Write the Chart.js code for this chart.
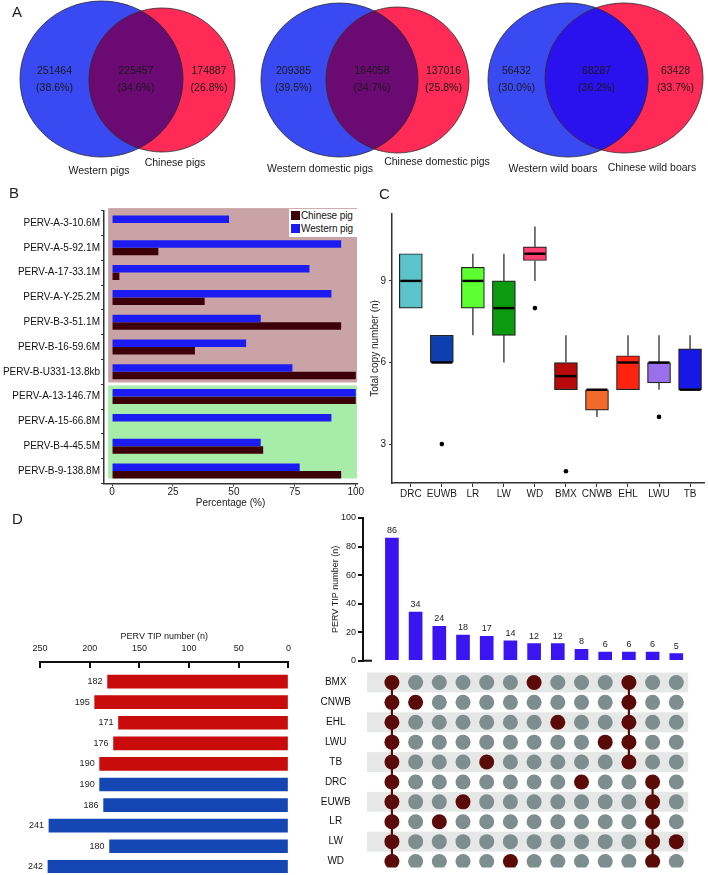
<!DOCTYPE html>
<html lang="en">
<head>
<meta charset="UTF-8">
<title>PERV insertion figure</title>
<script src="https://cdn.jsdelivr.net/npm/chart.js"></script>
<style>
  body { margin: 0; background: #fff; font-family: 'Liberation Sans', Arial, sans-serif; }
  #page { position: relative; width: 708px; height: 875px; overflow: hidden; }
  #page canvas { position: absolute; }
  .tag { position: absolute; font-size: 15px; color: #222; line-height: 18px; }
  #legendB { position: absolute; left: 289px; top: 209px; width: 68px; height: 28px; background: #fff; font-size: 10px; color: #111; }
  #legendB div { height: 13px; line-height: 13px; white-space: nowrap; letter-spacing: -0.1px; }
  #legendB span { display: inline-block; width: 9px; height: 9px; margin: 0 1px 0 2px; vertical-align: -1px; }
</style>
</head>
<body>
<div id="page">
  <canvas id="venn" width="708" height="180" style="left:0;top:0"></canvas>
  <canvas id="chartB" width="370" height="314" style="left:0;top:196px"></canvas>
  <canvas id="chartC" width="346" height="314" style="left:362px;top:196px"></canvas>
  <canvas id="chartDleft" width="305" height="255" style="left:0;top:620px"></canvas>
  <canvas id="chartDbars" width="408" height="170" style="left:300px;top:500px"></canvas>
  <canvas id="chartDmatrix" width="408" height="210" style="left:300px;top:665px"></canvas>
  <div id="legendB">
    <div><span style="background:#3d0009"></span>Chinese pig</div>
    <div><span style="background:#1c1cf2"></span>Western pig</div>
  </div>
  <div class="tag" style="left:12px;top:3px">A</div>
  <div class="tag" style="left:9px;top:184px">B</div>
  <div class="tag" style="left:379px;top:185px">C</div>
  <div class="tag" style="left:12px;top:510px">D</div>
</div>

<script>
// ---- A: shared / private sites ----
const vennTitles = [
  ['Western pigs', 'Chinese pigs'],
  ['Western domestic pigs', 'Chinese domestic pigs'],
  ['Western wild boars', 'Chinese wild boars']
];
const vennCounts = [[251464, 225457, 174887], [209385, 184058, 137016], [56432, 68287, 63428]];
const vennPercents = [['38.6%', '34.6%', '26.8%'], ['39.5%', '34.7%', '25.8%'], ['30.0%', '36.2%', '33.7%']];

// ---- B: PERV loci frequency ----
const pervLoci = ['PERV-A-3-10.6M', 'PERV-A-5-92.1M', 'PERV-A-17-33.1M', 'PERV-A-Y-25.2M', 'PERV-B-3-51.1M',
  'PERV-B-16-59.6M', 'PERV-B-U331-13.8kb', 'PERV-A-13-146.7M', 'PERV-A-15-66.8M', 'PERV-B-4-45.5M', 'PERV-B-9-138.8M'];
const westernPct = [48, 94, 81, 90, 61, 55, 74, 100, 90, 61, 77];
const chinesePct = [0, 19, 3, 38, 94, 34, 100, 100, 0, 62, 94];
const pctTicks = [0, 25, 50, 75, 100];

// ---- C: total copy number per breed ----
const breeds = ['DRC', 'EUWB', 'LR', 'LW', 'WD', 'BMX', 'CNWB', 'EHL', 'LWU', 'TB'];
const boxQ1 = [8, 6, 8, 7, 9.75, 5, 4.25, 5, 5.25, 5];
const boxQ3 = [10, 7, 9.5, 9, 10.25, 6, 5, 6.25, 6, 6.5];
const boxMedian = [9, 6, 9, 8, 10, 5.5, 5, 6, 6, 5];
const whiskerLow = [8, 6, 7, 6, 9, 5, 4, 5, 5, 5];
const whiskerHigh = [10, 7, 10, 10, 11, 7, 5, 7, 7, 7];
const outlierBreed = ['EUWB', 'WD', 'BMX', 'LWU'];
const outlierValue = [3, 8, 2, 4];
const copyTicks = [3, 6, 9];

// ---- D: PERV TIPs ----
const breedsD = ['BMX', 'CNWB', 'EHL', 'LWU', 'TB', 'DRC', 'EUWB', 'LR', 'LW', 'WD'];
const breedOrigin = ['Chinese', 'Chinese', 'Chinese', 'Chinese', 'Chinese', 'Western', 'Western', 'Western', 'Western', 'Western'];
const tipTotals = [182, 195, 171, 176, 190, 190, 186, 241, 180, 242];
const intersectionSizes = [86, 34, 24, 18, 17, 14, 12, 12, 8, 6, 6, 6, 5];
const intersectionSets = [
  ['BMX', 'CNWB', 'EHL', 'LWU', 'TB', 'DRC', 'EUWB', 'LR', 'LW', 'WD'],
  ['CNWB'], ['LR'], ['EUWB'], ['TB'], ['WD'], ['BMX'], ['EHL'], ['DRC'], ['LWU'],
  ['BMX', 'CNWB', 'EHL', 'LWU', 'TB'],
  ['DRC', 'EUWB', 'LR', 'LW', 'WD'],
  ['LW']
];

Chart.defaults.font.family = "'Liberation Sans', Arial, sans-serif";
Chart.defaults.font.size = 10;
Chart.defaults.color = '#1a1a1a';
Chart.defaults.animation = false;
Chart.defaults.responsive = false;
Chart.defaults.plugins.legend.display = false;
Chart.defaults.plugins.tooltip.enabled = false;

const FONT = "'Liberation Sans', Arial, sans-serif";

// venn geometry in the 708x180 frame (layout only)
const vennLayout = [
  { west: { cx: 101.5, cy: 79, rx: 81.5, ry: 78 }, china: { cx: 162, cy: 80, rx: 73, ry: 72 },
    overlap: '#6c0a74', westLabel: [99, 171], chinaLabel: [175, 163] },
  { west: { cx: 339.5, cy: 80, rx: 78.5, ry: 77 }, china: { cx: 397.5, cy: 80, rx: 71.5, ry: 73 },
    overlap: '#6c0a74', westLabel: [320, 169], chinaLabel: [437, 162] },
  { west: { cx: 568, cy: 80, rx: 80, ry: 77 }, china: { cx: 624, cy: 78, rx: 79, ry: 75 },
    overlap: '#2a12ee', westLabel: [553, 169], chinaLabel: [652, 168] }
];

const vennPlugin = {
  id: 'venn',
  afterDraw(chart) {
    const { ctx, scales: { x, y } } = chart;
    const px = v => x.getPixelForValue(v), py = v => y.getPixelForValue(v);
    const path = e => {
      ctx.beginPath();
      ctx.ellipse(px(e.cx), py(e.cy), Math.abs(px(e.cx + e.rx) - px(e.cx)), Math.abs(py(e.cy + e.ry) - py(e.cy)), 0, 0, Math.PI * 2);
    };
    vennLayout.forEach((v, k) => {
      const A = v.west, B = v.china;
      ctx.save();
      ctx.fillStyle = '#3a4af2'; path(A); ctx.fill();
      ctx.fillStyle = '#ff2a55'; path(B); ctx.fill();
      ctx.save(); path(A); ctx.clip(); ctx.fillStyle = v.overlap; path(B); ctx.fill(); ctx.restore();
      ctx.strokeStyle = '#2a2a2a'; ctx.lineWidth = 0.8;
      path(A); ctx.stroke(); path(B); ctx.stroke();

      const edges = [A.cx - A.rx, B.cx - B.rx, A.cx + A.rx, B.cx + B.rx];
      const mids = [(edges[0] + edges[1]) / 2, (edges[1] + edges[2]) / 2, (edges[2] + edges[3]) / 2];
      ctx.fillStyle = '#1a1a1a';
      ctx.font = '10.5px ' + FONT;
      ctx.textAlign = 'center';
      ctx.textBaseline = 'middle';
      mids.forEach((m, j) => {
        ctx.fillText(String(vennCounts[k][j]), px(m), py(71));
        ctx.fillText('(' + vennPercents[k][j] + ')', px(m), py(88));
      });
      ctx.fillText(vennTitles[k][0], px(v.westLabel[0]), py(v.westLabel[1]));
      ctx.fillText(vennTitles[k][1], px(v.chinaLabel[0]), py(v.chinaLabel[1]));
      ctx.restore();
    });
  }
};

new Chart(document.getElementById('venn'), {
  type: 'scatter',
  data: { datasets: [] },
  options: {
    layout: { padding: 0 },
    scales: {
      x: { type: 'linear', min: 0, max: 708, display: false },
      y: { type: 'linear', min: 0, max: 180, reverse: true, display: false }
    }
  },
  plugins: [vennPlugin]
});

// ---- B ----
const shadePlugin = {
  id: 'shade',
  beforeDatasetsDraw(chart) {
    const { ctx, scales: { x, y } } = chart;
    const groups = [[-0.6, 6.43, '#c9a3a5'], [6.55, 10.3, '#a8eca9']];
    ctx.save();
    groups.forEach(g => {
      const top = y.getPixelForValue(g[0]), bot = y.getPixelForValue(g[1]);
      const left = x.getPixelForValue(-1.6), right = x.getPixelForValue(100.5);
      ctx.fillStyle = g[2];
      ctx.fillRect(left, top, right - left, bot - top);
    });
    ctx.restore();
  }
};

new Chart(document.getElementById('chartB'), {
  type: 'bar',
  data: {
    labels: pervLoci,
    datasets: [
      { label: 'Western pig', data: westernPct, backgroundColor: '#1c1cf2', barThickness: 7.5, inflateAmount: 0 },
      { label: 'Chinese pig', data: chinesePct, backgroundColor: '#3d0009', barThickness: 7.5, inflateAmount: 0 }
    ]
  },
  options: {
    indexAxis: 'y',
    layout: { padding: { top: 14.6, right: 13, left: 0, bottom: 0 } },
    scales: {
      x: {
        type: 'linear', min: -3.3, max: 100.5,
        afterBuildTicks: s => { s.ticks = pctTicks.map(v => ({ value: v })); },
        grid: { drawOnChartArea: false, tickLength: 3, color: '#333' },
        border: { color: '#333', width: 1.5 },
        ticks: { padding: 0 },
        title: { display: true, text: 'Percentage (%)', padding: { top: 0, bottom: 1 } },
        afterFit: s => { s.height = 26.6; }
      },
      y: {
        grid: { drawOnChartArea: false, tickLength: 3, color: '#333' },
        border: { color: '#333', width: 1.5 },
        ticks: { padding: 1, color: '#111' },
        afterFit: s => { s.width = 104; }
      }
    }
  },
  plugins: [shadePlugin]
});

// ---- C ----
const boxColors = ['#5bc4cb', '#0d3fb0', '#5cff30', '#0c9a10', '#ff3f70', '#b80a0a', '#f26a2a', '#ff2310', '#9a70ea', '#1717e8'];

const boxPlugin = {
  id: 'boxes',
  afterDatasetsDraw(chart) {
    const { ctx, scales: { y } } = chart;
    const meta = chart.getDatasetMeta(0);
    ctx.save();
    meta.data.forEach((bar, i) => {
      const cx = bar.x, half = bar.width / 2;
      ctx.strokeStyle = '#4a4a4a'; ctx.lineWidth = 1.5;
      ctx.beginPath();
      if (whiskerLow[i] < boxQ1[i]) { ctx.moveTo(cx, y.getPixelForValue(whiskerLow[i])); ctx.lineTo(cx, y.getPixelForValue(boxQ1[i])); }
      if (whiskerHigh[i] > boxQ3[i]) { ctx.moveTo(cx, y.getPixelForValue(boxQ3[i])); ctx.lineTo(cx, y.getPixelForValue(whiskerHigh[i])); }
      ctx.stroke();
      ctx.strokeStyle = '#000'; ctx.lineWidth = 2.4;
      ctx.beginPath();
      const my = y.getPixelForValue(boxMedian[i]);
      ctx.moveTo(cx - half + 1, my); ctx.lineTo(cx + half - 1, my);
      ctx.stroke();
    });
    ctx.restore();
  }
};

new Chart(document.getElementById('chartC'), {
  type: 'bar',
  data: {
    datasets: [
      { type: 'bar', data: breeds.map((b, i) => ({ x: i, y: [boxQ1[i], boxQ3[i]] })),
        backgroundColor: boxColors, borderColor: '#222', borderWidth: 1.2, borderSkipped: false, barThickness: 23 },
      { type: 'scatter', data: outlierBreed.map((b, i) => ({ x: breeds.indexOf(b), y: outlierValue[i] })),
        pointRadius: 2.3, backgroundColor: '#000', borderWidth: 0 }
    ]
  },
  options: {
    layout: { padding: { top: 18, right: 1, left: 0, bottom: 0 } },
    scales: {
      x: {
        type: 'linear', min: -0.607, max: 9.45, offset: false,
        afterBuildTicks: s => { s.ticks = breeds.map((b, i) => ({ value: i })); },
        ticks: { callback: v => breeds[v], autoSkip: false, maxRotation: 0, padding: 1 },
        grid: { drawOnChartArea: false, offset: false, tickLength: 4, color: '#333' },
        border: { color: '#333', width: 1.5 },
        afterFit: s => { s.height = 27; }
      },
      y: {
        min: 1.57, max: 11.46,
        afterBuildTicks: s => { s.ticks = copyTicks.map(v => ({ value: v })); },
        grid: { drawOnChartArea: false, tickLength: 3, color: '#333' },
        border: { color: '#333', width: 1.5 },
        ticks: { padding: 3 },
        title: { display: true, text: 'Total copy number (n)', padding: { top: 7, bottom: 0 } },
        afterFit: s => { s.width = 30; }
      }
    }
  },
  plugins: [boxPlugin]
});

// ---- D left: total TIPs per breed ----
const leftValuePlugin = {
  id: 'leftValues',
  afterDatasetsDraw(chart) {
    const { ctx } = chart;
    ctx.save();
    ctx.font = '9px ' + FONT;
    ctx.fillStyle = '#1a1a1a';
    ctx.textAlign = 'right';
    ctx.textBaseline = 'middle';
    chart.getDatasetMeta(0).data.forEach((bar, i) => {
      ctx.fillText(String(tipTotals[i]), bar.x - 5, bar.y);
    });
    ctx.restore();
  }
};

new Chart(document.getElementById('chartDleft'), {
  type: 'bar',
  data: {
    datasets: [{
      data: tipTotals.map((v, i) => ({ x: v, y: i })),
      backgroundColor: breedOrigin.map(o => o === 'Chinese' ? '#c80b0b' : '#1447b3'),
      barThickness: 13
    }]
  },
  options: {
    indexAxis: 'y',
    layout: { padding: { left: 40, right: 7, top: 0, bottom: 2 } },
    scales: {
      x: {
        type: 'linear', position: 'top', min: 0, max: 250, reverse: true,
        ticks: { stepSize: 50, font: { size: 9 }, padding: 14 },
        grid: { drawOnChartArea: false, tickLength: -6, color: '#111', lineWidth: 2 },
        border: { color: '#111', width: 2 },
        title: { display: true, text: 'PERV TIP number (n)', font: { size: 9 }, padding: { top: 11.6, bottom: 0 } },
        afterFit: s => { s.height = 42; }
      },
      y: { type: 'linear', reverse: true, min: -0.95, max: 9.3, offset: false, display: false }
    }
  },
  plugins: [leftValuePlugin]
});

// ---- D right: intersection sizes ----
const topValuePlugin = {
  id: 'topValues',
  afterDatasetsDraw(chart) {
    const { ctx, chartArea } = chart;
    ctx.save();
    ctx.font = '9px ' + FONT;
    ctx.fillStyle = '#1a1a1a';
    ctx.textAlign = 'center';
    ctx.textBaseline = 'bottom';
    chart.getDatasetMeta(0).data.forEach((bar, i) => {
      ctx.fillText(String(intersectionSizes[i]), bar.x, bar.y - 3);
    });
    ctx.strokeStyle = '#111'; ctx.lineWidth = 2;
    ctx.beginPath();
    ctx.moveTo(chartArea.left - 1, chartArea.bottom); ctx.lineTo(chartArea.left + 9, chartArea.bottom);
    ctx.stroke();
    ctx.restore();
  }
};

new Chart(document.getElementById('chartDbars'), {
  type: 'bar',
  data: {
    datasets: [{ data: intersectionSizes.map((v, i) => ({ x: i, y: v })), backgroundColor: '#3a15f2', barThickness: 13 }]
  },
  options: {
    layout: { padding: { top: 18, right: 8, left: 0, bottom: 9.3 } },
    scales: {
      x: { type: 'linear', min: -1.22, max: 13, offset: false, display: false },
      y: {
        min: 0, max: 100,
        ticks: { stepSize: 20, padding: 2, font: { size: 9 } },
        grid: { drawOnChartArea: false, tickLength: 5, color: '#111', lineWidth: 2 },
        border: { color: '#111', width: 2 },
        title: { display: true, text: 'PERV TIP number (n)', font: { size: 9 }, padding: { top: 30, bottom: 0 } },
        afterFit: s => { s.width = 63; }
      }
    }
  },
  plugins: [topValuePlugin]
});

// ---- D right: membership matrix ----
const cellOff = [], cellOn = [], links = [];
intersectionSets.forEach((set, c) => {
  breedsD.forEach((b, r) => { (set.includes(b) ? cellOn : cellOff).push({ x: c, y: r }); });
  if (set.length > 1) {
    const rows = set.map(b => breedsD.indexOf(b));
    links.push([{ x: c, y: Math.min(...rows) }, { x: c, y: Math.max(...rows) }]);
  }
});

const bandPlugin = {
  id: 'bands',
  beforeDatasetsDraw(chart) {
    const { ctx, scales: { x, y } } = chart;
    ctx.save();
    ctx.fillStyle = '#e6e7e7';
    breedsD.forEach((b, r) => {
      if (r % 2) return;
      const left = x.getPixelForValue(-1.05), right = x.getPixelForValue(12.5);
      const top = y.getPixelForValue(r - 0.5), bot = y.getPixelForValue(r + 0.5);
      ctx.fillRect(left, top, right - left, bot - top);
    });
    ctx.restore();
  }
};

new Chart(document.getElementById('chartDmatrix'), {
  type: 'scatter',
  data: {
    datasets: [
      { data: cellOff, pointRadius: 7.5, backgroundColor: '#7e8d8d', borderWidth: 0, order: 0 },
      { data: cellOn, pointRadius: 7.5, backgroundColor: '#5a0b08', borderWidth: 0, order: 0 },
      ...links.map(l => ({ data: l, showLine: true, borderColor: '#5a0b08', borderWidth: 2.2, pointRadius: 0, order: 1 }))
    ]
  },
  options: {
    layout: { padding: { top: 6.7, right: 8, left: 0, bottom: 2 } },
    scales: {
      x: { type: 'linear', min: -1.22, max: 13, display: false },
      y: {
        type: 'linear', reverse: true, min: -0.5, max: 9.3,
        afterBuildTicks: s => { s.ticks = breedsD.map((b, i) => ({ value: i })); },
        ticks: { callback: v => breedsD[v], crossAlign: 'center', padding: 0, color: '#111' },
        grid: { display: false, drawTicks: true, tickLength: 12 },
        border: { display: false },
        afterFit: s => { s.width = 63; }
      }
    }
  },
  plugins: [bandPlugin]
});
</script>
</body>
</html>
